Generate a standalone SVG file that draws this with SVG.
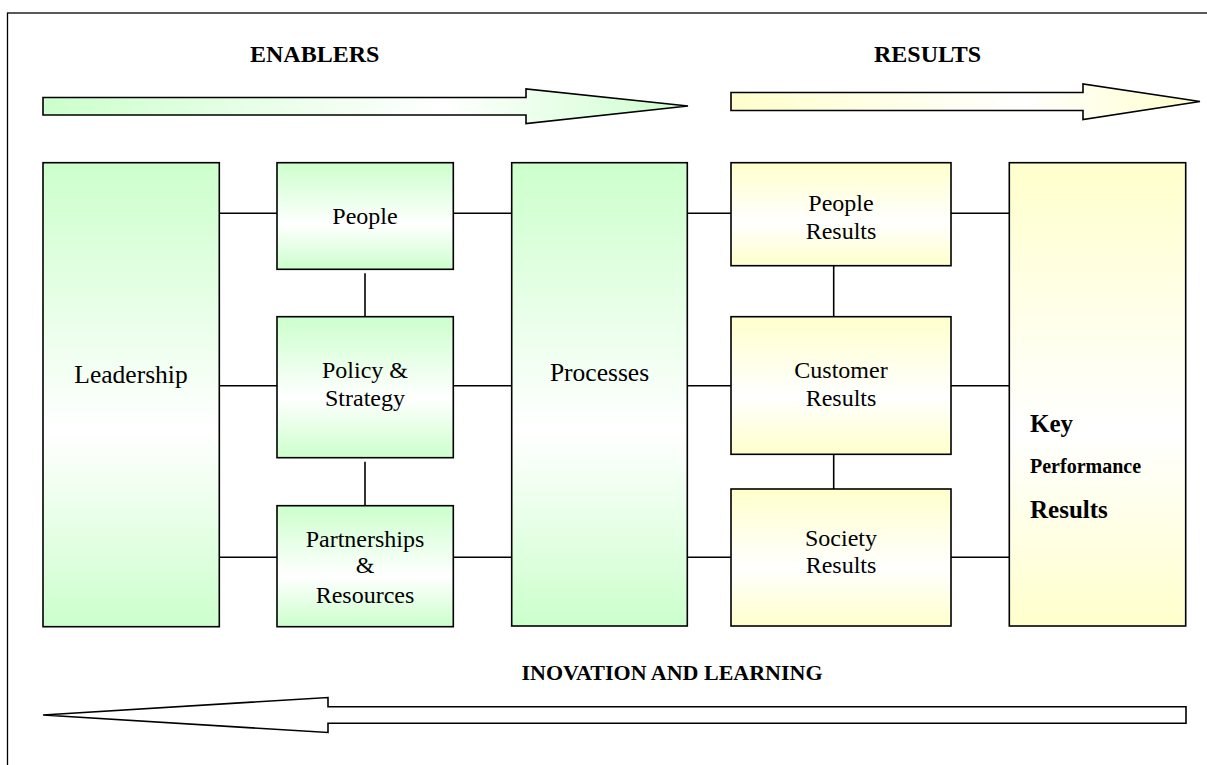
<svg xmlns="http://www.w3.org/2000/svg" width="1207" height="765" viewBox="0 0 1207 765">
  <defs>
    <linearGradient id="gV" x1="0" y1="0" x2="0" y2="1">
      <stop offset="0" stop-color="#ccffcc"/>
      <stop offset="0.58" stop-color="#ffffff"/>
      <stop offset="1" stop-color="#ccffcc"/>
    </linearGradient>
    <linearGradient id="yV" x1="0" y1="0" x2="0" y2="1">
      <stop offset="0" stop-color="#ffffcc"/>
      <stop offset="0.58" stop-color="#ffffff"/>
      <stop offset="1" stop-color="#ffffcc"/>
    </linearGradient>
    <linearGradient id="gH" x1="0" y1="0" x2="1" y2="0">
      <stop offset="0" stop-color="#ccffcc"/>
      <stop offset="0.62" stop-color="#ffffff"/>
      <stop offset="1" stop-color="#ccffcc"/>
    </linearGradient>
    <linearGradient id="yH" x1="0" y1="0" x2="1" y2="0">
      <stop offset="0" stop-color="#ffffcc"/>
      <stop offset="0.62" stop-color="#ffffff"/>
      <stop offset="1" stop-color="#ffffcc"/>
    </linearGradient>
  </defs>
  <style>
    .box { stroke: #000; stroke-width: 1.6; }
    .g { fill: url(#gV); }
    .y { fill: url(#yV); }
    .arrow { stroke: #000; stroke-width: 1.6; stroke-linejoin: miter; }
    .conn line { stroke: #000; stroke-width: 1.6; }
    .t { font-family: "Liberation Serif", "Times New Roman", serif; fill: #000; text-anchor: middle; }
    .big { font-size: 25.5px; }
    .mid { font-size: 24px; }
    .hd { font-family: "Liberation Serif", "Times New Roman", serif; font-weight: bold; fill: #000; }
  </style>
  <rect width="1207" height="765" fill="#ffffff"/>
  <rect id="frame" x="7.5" y="13" width="1300" height="800" fill="none" stroke="#000" stroke-width="1.3"/>

  <g id="enablers-header">
    <text class="hd" x="250" y="62" font-size="24">ENABLERS</text>
    <polygon class="arrow" fill="url(#gH)" points="43,97.5 526,97.5 526,89 688,106 526,123.5 526,115 43,115"/>
  </g>
  <g id="results-header">
    <text class="hd" x="874" y="62" font-size="24">RESULTS</text>
    <polygon class="arrow" fill="url(#yH)" points="731,92.5 1083,92.5 1083,84 1200,101.5 1083,119.5 1083,110.5 731,110.5"/>
  </g>
  <g id="innovation-footer">
    <text class="hd" x="672" y="680" font-size="22" text-anchor="middle">INOVATION AND LEARNING</text>
    <polygon class="arrow" fill="#ffffff" points="43,715 328,697.5 328,706.7 1186,706.7 1186,723.3 328,723.3 328,732.5"/>
  </g>

  <g id="connectors" class="conn">
    <line x1="219" y1="213.3" x2="277" y2="213.3"/>
    <line x1="219" y1="385.7" x2="277" y2="385.7"/>
    <line x1="219" y1="557.3" x2="277" y2="557.3"/>
    <line x1="453" y1="213.3" x2="512" y2="213.3"/>
    <line x1="453" y1="385.7" x2="512" y2="385.7"/>
    <line x1="453" y1="557.3" x2="512" y2="557.3"/>
    <line x1="365" y1="273.3" x2="365" y2="316.7"/>
    <line x1="365" y1="461.7" x2="365" y2="505.7"/>
    <line x1="687.3" y1="213.3" x2="731" y2="213.3"/>
    <line x1="687.3" y1="385.7" x2="731" y2="385.7"/>
    <line x1="687.3" y1="557.3" x2="731" y2="557.3"/>
    <line x1="833.7" y1="265.7" x2="833.7" y2="316.7"/>
    <line x1="833.7" y1="454.3" x2="833.7" y2="489"/>
    <line x1="951" y1="213.3" x2="1009.3" y2="213.3"/>
    <line x1="951" y1="385.7" x2="1009.3" y2="385.7"/>
    <line x1="951" y1="557.3" x2="1009.3" y2="557.3"/>
  </g>

  <g id="leadership">
    <rect class="box g" x="43" y="162.7" width="176.3" height="464"/>
    <text class="t big" x="131" y="383">Leadership</text>
  </g>
  <g id="people">
    <rect class="box g" x="277" y="162.7" width="176.3" height="106.6"/>
    <text class="t mid" x="365" y="224">People</text>
  </g>
  <g id="policy-strategy">
    <rect class="box g" x="277" y="316.7" width="176.3" height="141"/>
    <text class="t mid" x="365" y="378.3">Policy &amp;</text>
    <text class="t mid" x="365" y="406">Strategy</text>
  </g>
  <g id="partnerships-resources">
    <rect class="box g" x="277" y="505.7" width="176.3" height="121"/>
    <text class="t mid" x="365" y="546.7">Partnerships</text>
    <text class="t mid" x="365" y="573.3">&amp;</text>
    <text class="t mid" x="365" y="602.7">Resources</text>
  </g>
  <g id="processes">
    <rect class="box g" x="511.7" y="162.7" width="175.6" height="463.3"/>
    <text class="t big" x="599.5" y="381">Processes</text>
  </g>
  <g id="people-results">
    <rect class="box y" x="731" y="162.7" width="220" height="103"/>
    <text class="t mid" x="841" y="211">People</text>
    <text class="t mid" x="841" y="239.3">Results</text>
  </g>
  <g id="customer-results">
    <rect class="box y" x="731" y="316.7" width="220" height="137.6"/>
    <text class="t mid" x="841" y="377.7">Customer</text>
    <text class="t mid" x="841" y="406">Results</text>
  </g>
  <g id="society-results">
    <rect class="box y" x="731" y="489" width="220" height="137"/>
    <text class="t mid" x="841" y="546">Society</text>
    <text class="t mid" x="841" y="573.3">Results</text>
  </g>
  <g id="key-performance-results">
    <rect class="box y" x="1009.3" y="162.7" width="176.4" height="463.3"/>
    <text class="hd" x="1030" y="431.7" font-size="25">Key</text>
    <text class="hd" x="1030" y="472.7" font-size="20">Performance</text>
    <text class="hd" x="1030" y="518.3" font-size="25">Results</text>
  </g>
</svg>
